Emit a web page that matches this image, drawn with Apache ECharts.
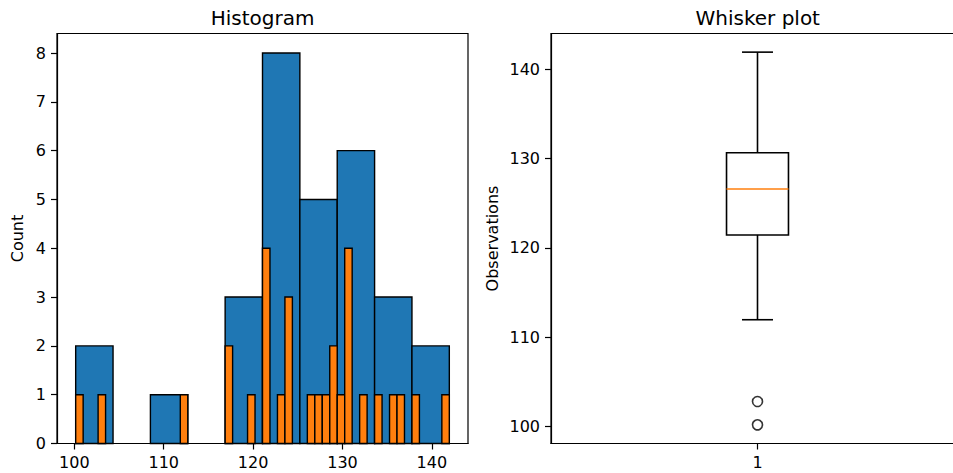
<!DOCTYPE html>
<html>
<head>
<meta charset="utf-8">
<script src="https://cdn.jsdelivr.net/npm/echarts@6/dist/echarts.min.js"></script>
<style>
html,body{margin:0;padding:0;background:#fff;}
#chart{width:953px;height:473px;}
</style>
</head>
<body>
<div id="chart"></div>
<script>
// ---- data ----
const histMin = 100.15;
const histMax = 141.95;
const coarseCounts = [2, 0, 1, 0, 3, 8, 5, 6, 3, 2];
const fineCounts = [
  1, 0, 0, 1, 0,
  0, 0, 0, 0, 0,
  0, 0, 0, 0, 1,
  0, 0, 0, 0, 0,
  2, 0, 0, 1, 0,
  4, 0, 1, 3, 0,
  0, 1, 1, 1, 2,
  1, 4, 0, 1, 0,
  1, 0, 1, 1, 0,
  1, 0, 0, 0, 1
];
const histXTicks = [100, 110, 120, 130, 140];
const histYTicks = [0, 1, 2, 3, 4, 5, 6, 7, 8];
const boxPosition = 1;
const boxWhiskerLow = 111.94;
const boxQ1 = 121.45;
const boxMedian = 126.6;
const boxQ3 = 130.67;
const boxWhiskerHigh = 141.95;
const boxOutliers = [102.77, 100.15];
const boxYTicks = [100, 110, 120, 130, 140];
const boxXTicks = [1];

// ---- build ----
function binsFrom(counts) {
  const n = counts.length;
  const w = (histMax - histMin) / n;
  return counts.map((c, i) => [histMin + i * w, histMin + (i + 1) * w, c]);
}
const span = histMax - histMin;
const xMin = histMin - 0.05 * span;
const xMax = histMax + 0.05 * span;

function histRender(color) {
  return function (params, api) {
    if (!api.value(2)) return null;
    const p0 = api.coord([api.value(0), 0]);
    const p1 = api.coord([api.value(1), api.value(2)]);
    return {
      type: 'rect',
      shape: { x: p0[0], y: p1[1], width: p1[0] - p0[0], height: p0[1] - p1[1] },
      style: { fill: color, stroke: '#000', lineWidth: 1.4 }
    };
  };
}

const FONT = 'DejaVu Sans';
const axisCommon = {
  axisLine: { show: true, lineStyle: { color: '#000', width: 1.2 } },
  axisTick: { show: true, length: 6, lineStyle: { color: '#000', width: 1.2 } },
  splitLine: { show: false },
  axisLabel: { color: '#000', fontFamily: FONT, fontSize: 16, margin: 11 },
  nameTextStyle: { color: '#000', fontFamily: FONT, fontSize: 16 }
};

const chart = echarts.init(document.getElementById('chart'), null, { renderer: 'svg' });
chart.setOption({
  animation: false,
  backgroundColor: '#fff',
  title: [
    { text: 'Histogram', left: 262.5, top: 8, padding: 0, textAlign: 'center',
      textStyle: { fontFamily: FONT, fontSize: 20, fontWeight: 'normal', color: '#000' } },
    { text: 'Whisker plot', left: 757.7, top: 8, padding: 0, textAlign: 'center',
      textStyle: { fontFamily: FONT, fontSize: 20, fontWeight: 'normal', color: '#000' } }
  ],
  grid: [
    { left: 57, top: 33.5, width: 411, height: 410, show: true, borderColor: '#000', borderWidth: 1.2,
      backgroundColor: 'transparent', outerBoundsMode: 'none', containLabel: false },
    { left: 551, top: 33.5, width: 413, height: 410, show: true, borderColor: '#000', borderWidth: 1.2,
      backgroundColor: 'transparent', outerBoundsMode: 'none', containLabel: false }
  ],
  xAxis: [
    Object.assign({}, axisCommon, {
      type: 'value', gridIndex: 0, min: xMin, max: xMax,
      axisTick: Object.assign({}, axisCommon.axisTick, { customValues: histXTicks }),
      axisLabel: Object.assign({}, axisCommon.axisLabel, { customValues: histXTicks })
    }),
    Object.assign({}, axisCommon, {
      type: 'value', gridIndex: 1, min: 0.5, max: 1.5,
      axisTick: Object.assign({}, axisCommon.axisTick, { customValues: boxXTicks }),
      axisLabel: Object.assign({}, axisCommon.axisLabel, { customValues: boxXTicks })
    })
  ],
  yAxis: [
    Object.assign({}, axisCommon, {
      type: 'value', gridIndex: 0, min: 0, max: 8.4,
      name: 'Count', nameLocation: 'middle', nameGap: 32,
      axisTick: Object.assign({}, axisCommon.axisTick, { customValues: histYTicks }),
      axisLabel: Object.assign({}, axisCommon.axisLabel, { customValues: histYTicks })
    }),
    Object.assign({}, axisCommon, {
      type: 'value', gridIndex: 1, min: xMin, max: xMax,
      name: 'Observations', nameLocation: 'middle', nameGap: 51,
      axisTick: Object.assign({}, axisCommon.axisTick, { customValues: boxYTicks }),
      axisLabel: Object.assign({}, axisCommon.axisLabel, { customValues: boxYTicks })
    })
  ],
  series: [
    {
      type: 'custom', xAxisIndex: 0, yAxisIndex: 0,
      renderItem: histRender('#1f77b4'),
      encode: { x: [0, 1], y: 2 },
      data: binsFrom(coarseCounts), z: 2
    },
    {
      type: 'custom', xAxisIndex: 0, yAxisIndex: 0,
      renderItem: histRender('#ff7f0e'),
      encode: { x: [0, 1], y: 2 },
      data: binsFrom(fineCounts), z: 3
    },
    {
      type: 'custom', xAxisIndex: 1, yAxisIndex: 1,
      encode: { x: 0, y: [1, 2, 3, 4, 5] },
      data: [[boxPosition, boxWhiskerLow, boxQ1, boxMedian, boxQ3, boxWhiskerHigh]],
      renderItem: function (params, api) {
        const x = api.value(0);
        const hw = 0.075, cw = 0.0375;
        const lo = api.coord([x, api.value(1)]);
        const q1L = api.coord([x - hw, api.value(2)]);
        const q3R = api.coord([x + hw, api.value(4)]);
        const medL = api.coord([x - hw, api.value(3)]);
        const medR = api.coord([x + hw, api.value(3)]);
        const hi = api.coord([x, api.value(5)]);
        const capLoL = api.coord([x - cw, api.value(1)]);
        const capLoR = api.coord([x + cw, api.value(1)]);
        const capHiL = api.coord([x - cw, api.value(5)]);
        const capHiR = api.coord([x + cw, api.value(5)]);
        const q1C = api.coord([x, api.value(2)]);
        const q3C = api.coord([x, api.value(4)]);
        const ls = { stroke: '#000', lineWidth: 1.6, fill: null };
        return {
          type: 'group',
          children: [
            { type: 'line', shape: { x1: lo[0], y1: lo[1], x2: q1C[0], y2: q1C[1] }, style: ls },
            { type: 'line', shape: { x1: q3C[0], y1: q3C[1], x2: hi[0], y2: hi[1] }, style: ls },
            { type: 'line', shape: { x1: capLoL[0], y1: capLoL[1], x2: capLoR[0], y2: capLoR[1] }, style: ls },
            { type: 'line', shape: { x1: capHiL[0], y1: capHiL[1], x2: capHiR[0], y2: capHiR[1] }, style: ls },
            { type: 'rect', shape: { x: q1L[0], y: q3R[1], width: q3R[0] - q1L[0], height: q1L[1] - q3R[1] },
              style: { stroke: '#000', lineWidth: 1.6, fill: 'none' } },
            { type: 'line', shape: { x1: medL[0], y1: medL[1], x2: medR[0], y2: medR[1] },
              style: { stroke: '#ff7f0e', lineWidth: 1.6 } }
          ]
        };
      }
    },
    {
      type: 'scatter', xAxisIndex: 1, yAxisIndex: 1,
      symbol: 'circle', symbolSize: 10,
      itemStyle: { color: 'rgba(0,0,0,0)', borderColor: '#000', borderWidth: 1.6 },
      data: boxOutliers.map(v => [boxPosition, v])
    }
  ]
});
</script>
</body>
</html>
